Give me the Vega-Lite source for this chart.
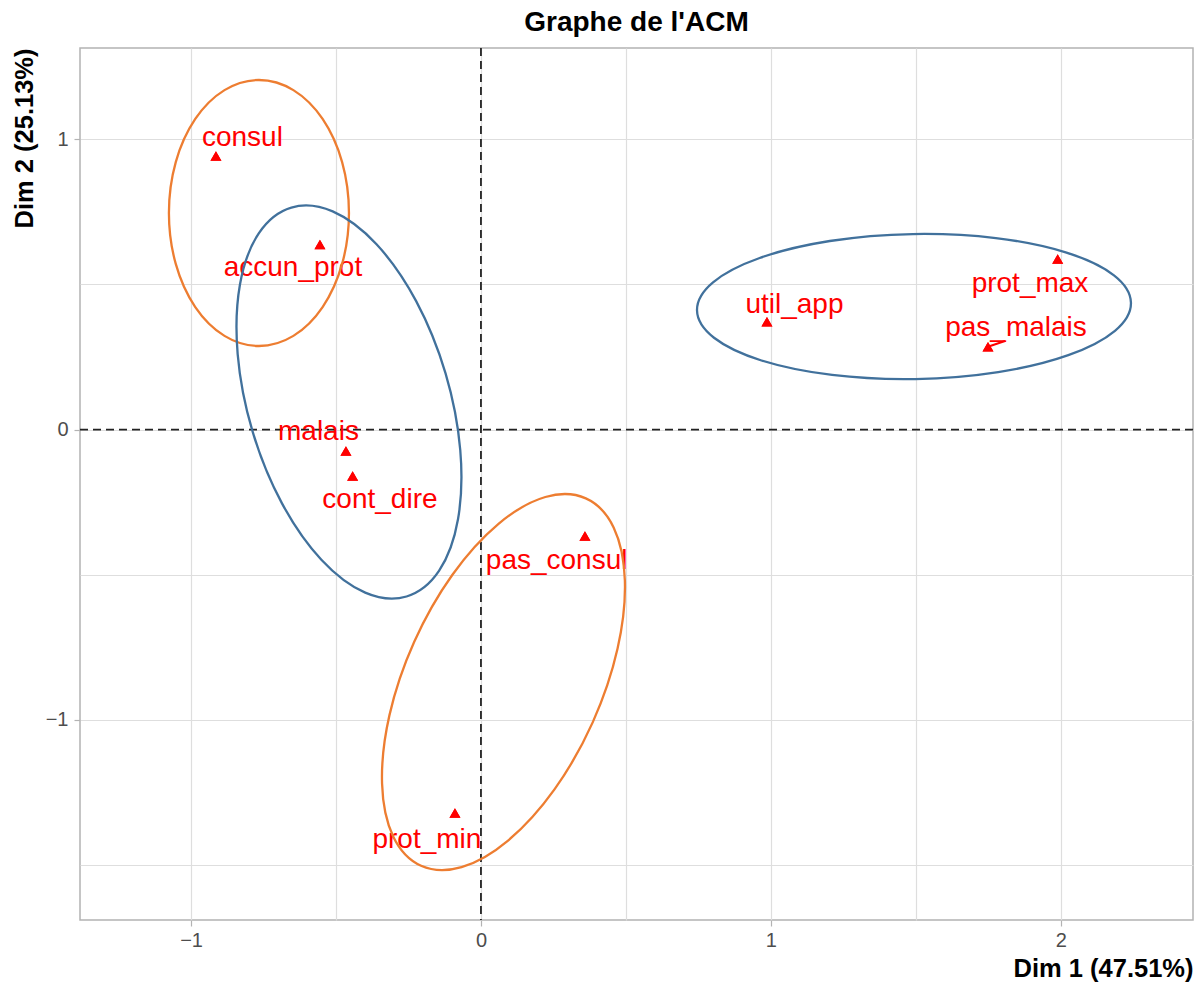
{
  "$schema": "https://vega.github.io/schema/vega-lite/v6.json",
  "width": 1113,
  "height": 872,
  "autosize": "none",
  "padding": {"left": 80, "top": 48, "right": 8, "bottom": 65},
  "background": "white",
  "title": {"text": "Graphe de l'ACM", "font": "Liberation Sans", "fontSize": 28, "fontWeight": "bold", "color": "#000000", "anchor": "middle", "offset": 10},
  "config": {
    "view": {"stroke": "#b3b3b3", "strokeWidth": 1.5},
    "font": "Liberation Sans"
  },
  "datasets": {
    "points": [
      {"name": "consul", "x": -0.9141, "y": 0.9422},
      {"name": "accun_prot", "x": -0.5554, "y": 0.6376},
      {"name": "malais", "x": -0.4657, "y": -0.0737},
      {"name": "cont_dire", "x": -0.4426, "y": -0.1598},
      {"name": "pas_consul", "x": 0.3587, "y": -0.3665},
      {"name": "prot_min", "x": -0.0897, "y": -1.3207},
      {"name": "util_app", "x": 0.9865, "y": 0.3717},
      {"name": "prot_max", "x": 1.9893, "y": 0.5877},
      {"name": "pas_malais", "x": 1.7489, "y": 0.2856}
    ],
    "labels": [
      {"name": "consul", "x": -0.8227, "y": 1.0059},
      {"name": "accun_prot", "x": -0.6485, "y": 0.5580},
      {"name": "malais", "x": -0.5605, "y": -0.0069},
      {"name": "cont_dire", "x": -0.3484, "y": -0.2422},
      {"name": "pas_consul", "x": 0.2611, "y": -0.4537},
      {"name": "prot_min", "x": -0.1863, "y": -1.4120},
      {"name": "util_app", "x": 1.0814, "y": 0.4306},
      {"name": "prot_max", "x": 1.8938, "y": 0.5005},
      {"name": "pas_malais", "x": 1.8455, "y": 0.3514}
    ],
    "segments": [
      {"name": "pas_malais", "x": 1.7489, "y": 0.2856, "x2": 1.8075, "y2": 0.3052}
    ],
    "ellipses": [
      {"ellipse": "A", "i": 0, "x": -0.4553, "y": 0.7462},
      {"ellipse": "A", "i": 1, "x": -0.4789, "y": 0.9215},
      {"ellipse": "A", "i": 2, "x": -0.5462, "y": 1.0701},
      {"ellipse": "A", "i": 3, "x": -0.6470, "y": 1.1694},
      {"ellipse": "A", "i": 4, "x": -0.7658, "y": 1.2043},
      {"ellipse": "A", "i": 5, "x": -0.8846, "y": 1.1694},
      {"ellipse": "A", "i": 6, "x": -0.9854, "y": 1.0701},
      {"ellipse": "A", "i": 7, "x": -1.0527, "y": 0.9215},
      {"ellipse": "A", "i": 8, "x": -1.0763, "y": 0.7462},
      {"ellipse": "A", "i": 9, "x": -1.0527, "y": 0.5709},
      {"ellipse": "A", "i": 10, "x": -0.9854, "y": 0.4223},
      {"ellipse": "A", "i": 11, "x": -0.8846, "y": 0.3230},
      {"ellipse": "A", "i": 12, "x": -0.7658, "y": 0.2881},
      {"ellipse": "A", "i": 13, "x": -0.6470, "y": 0.3230},
      {"ellipse": "A", "i": 14, "x": -0.5462, "y": 0.4223},
      {"ellipse": "A", "i": 15, "x": -0.4789, "y": 0.5709},
      {"ellipse": "B", "i": 0, "x": -0.2566, "y": -0.5747},
      {"ellipse": "B", "i": 1, "x": -0.3993, "y": -0.5615},
      {"ellipse": "B", "i": 2, "x": -0.5505, "y": -0.4482},
      {"ellipse": "B", "i": 3, "x": -0.6872, "y": -0.2523},
      {"ellipse": "B", "i": 4, "x": -0.7886, "y": -0.0035},
      {"ellipse": "B", "i": 5, "x": -0.8392, "y": 0.2604},
      {"ellipse": "B", "i": 6, "x": -0.8314, "y": 0.4990},
      {"ellipse": "B", "i": 7, "x": -0.7664, "y": 0.6762},
      {"ellipse": "B", "i": 8, "x": -0.6540, "y": 0.7649},
      {"ellipse": "B", "i": 9, "x": -0.5114, "y": 0.7516},
      {"ellipse": "B", "i": 10, "x": -0.3602, "y": 0.6384},
      {"ellipse": "B", "i": 11, "x": -0.2235, "y": 0.4425},
      {"ellipse": "B", "i": 12, "x": -0.1221, "y": 0.1936},
      {"ellipse": "B", "i": 13, "x": -0.0714, "y": -0.0702},
      {"ellipse": "B", "i": 14, "x": -0.0792, "y": -0.3089},
      {"ellipse": "B", "i": 15, "x": -0.1442, "y": -0.4860},
      {"ellipse": "C", "i": 0, "x": 0.3617, "y": -0.2367},
      {"ellipse": "C", "i": 1, "x": 0.4580, "y": -0.3376},
      {"ellipse": "C", "i": 2, "x": 0.4964, "y": -0.5196},
      {"ellipse": "C", "i": 3, "x": 0.4710, "y": -0.7548},
      {"ellipse": "C", "i": 4, "x": 0.3858, "y": -1.0074},
      {"ellipse": "C", "i": 5, "x": 0.2536, "y": -1.2391},
      {"ellipse": "C", "i": 6, "x": 0.0946, "y": -1.4144},
      {"ellipse": "C", "i": 7, "x": -0.0669, "y": -1.5069},
      {"ellipse": "C", "i": 8, "x": -0.2065, "y": -1.5022},
      {"ellipse": "C", "i": 9, "x": -0.3028, "y": -1.4013},
      {"ellipse": "C", "i": 10, "x": -0.3411, "y": -1.2193},
      {"ellipse": "C", "i": 11, "x": -0.3158, "y": -0.9842},
      {"ellipse": "C", "i": 12, "x": -0.2305, "y": -0.7315},
      {"ellipse": "C", "i": 13, "x": -0.0984, "y": -0.4998},
      {"ellipse": "C", "i": 14, "x": 0.0606, "y": -0.3245},
      {"ellipse": "C", "i": 15, "x": 0.2221, "y": -0.2320},
      {"ellipse": "D", "i": 0, "x": 2.2420, "y": 0.4370},
      {"ellipse": "D", "i": 1, "x": 2.1868, "y": 0.3405},
      {"ellipse": "D", "i": 2, "x": 2.0259, "y": 0.2567},
      {"ellipse": "D", "i": 3, "x": 1.7841, "y": 0.1983},
      {"ellipse": "D", "i": 4, "x": 1.4980, "y": 0.1743},
      {"ellipse": "D", "i": 5, "x": 1.2112, "y": 0.1883},
      {"ellipse": "D", "i": 6, "x": 0.9675, "y": 0.2382},
      {"ellipse": "D", "i": 7, "x": 0.8038, "y": 0.3164},
      {"ellipse": "D", "i": 8, "x": 0.7452, "y": 0.4110},
      {"ellipse": "D", "i": 9, "x": 0.8005, "y": 0.5075},
      {"ellipse": "D", "i": 10, "x": 0.9613, "y": 0.5913},
      {"ellipse": "D", "i": 11, "x": 1.2032, "y": 0.6497},
      {"ellipse": "D", "i": 12, "x": 1.4892, "y": 0.6737},
      {"ellipse": "D", "i": 13, "x": 1.7760, "y": 0.6597},
      {"ellipse": "D", "i": 14, "x": 2.0197, "y": 0.6098},
      {"ellipse": "D", "i": 15, "x": 2.1834, "y": 0.5316}
    ]
  },
  "layer": [
    {
      "data": {"name": "points"},
      "mark": {"type": "point", "shape": "triangle-up", "filled": true, "color": "#ff0000", "opacity": 1, "size": 120},
      "encoding": {
        "x": {
          "field": "x", "type": "quantitative",
          "scale": {"domain": [-1.383, 2.456], "nice": false, "zero": false},
          "axis": {
            "title": "Dim 1 (47.51%)",
            "values": [-1, -0.5, 0, 0.5, 1, 1.5, 2],
            "format": ".0f",
            "labelExpr": "datum.value % 1 === 0 ? datum.label : ''",
            "labelOverlap": false,
            "grid": true, "gridColor": "#dedede", "gridWidth": 1.2,
            "domain": false,
            "tickColor": "#b3b3b3", "tickWidth": 1.2, "tickSize": 6,
            "tickOpacity": {"condition": {"test": "datum.value % 1 !== 0", "value": 0}, "value": 1},
            "labelFont": "Liberation Sans", "labelFontSize": 20, "labelColor": "#4d4d4d", "labelPadding": 4,
            "titleFont": "Liberation Sans", "titleFontSize": 25.5, "titleFontWeight": "bold", "titleColor": "#000000",
            "titleAnchor": "end", "titleBaseline": "top", "titleY": 36
          }
        },
        "y": {
          "field": "y", "type": "quantitative",
          "scale": {"domain": [-1.689, 1.3145], "nice": false, "zero": false},
          "axis": {
            "title": "Dim 2 (25.13%)",
            "values": [-1.5, -1, -0.5, 0, 0.5, 1],
            "format": ".0f",
            "labelExpr": "datum.value % 1 === 0 ? datum.label : ''",
            "labelOverlap": false,
            "grid": true, "gridColor": "#dedede", "gridWidth": 1.2,
            "domain": false,
            "tickColor": "#b3b3b3", "tickWidth": 1.2, "tickSize": 6,
            "tickOpacity": {"condition": {"test": "datum.value % 1 !== 0", "value": 0}, "value": 1},
            "labelFont": "Liberation Sans", "labelFontSize": 20, "labelColor": "#4d4d4d", "labelPadding": 6,
            "titleFont": "Liberation Sans", "titleFontSize": 25.5, "titleFontWeight": "bold", "titleColor": "#000000",
            "titleAnchor": "end", "titleBaseline": "bottom", "titleX": -43
          }
        }
      }
    },
    {
      "data": {"values": [{"v": 0}]},
      "mark": {"type": "rule", "color": "#222222", "strokeWidth": 1.8, "strokeDash": [8, 5]},
      "encoding": {"x": {"datum": 0, "type": "quantitative"}}
    },
    {
      "data": {"values": [{"v": 0}]},
      "mark": {"type": "rule", "color": "#222222", "strokeWidth": 1.8, "strokeDash": [8, 5]},
      "encoding": {"y": {"datum": 0, "type": "quantitative"}}
    },
    {
      "data": {"name": "segments"},
      "mark": {"type": "rule", "color": "#ff0000", "strokeWidth": 2},
      "encoding": {
        "x": {"field": "x", "type": "quantitative"},
        "y": {"field": "y", "type": "quantitative"},
        "x2": {"field": "x2"},
        "y2": {"field": "y2"}
      }
    },
    {
      "data": {"name": "points"},
      "mark": {"type": "point", "shape": "triangle-up", "filled": true, "color": "#ff0000", "opacity": 1, "size": 120},
      "encoding": {
        "x": {"field": "x", "type": "quantitative"},
        "y": {"field": "y", "type": "quantitative"}
      }
    },
    {
      "data": {"name": "labels"},
      "mark": {"type": "text", "font": "Liberation Sans", "fontSize": 28, "color": "#ff0000", "align": "center", "baseline": "middle"},
      "encoding": {
        "x": {"field": "x", "type": "quantitative"},
        "y": {"field": "y", "type": "quantitative"},
        "text": {"field": "name", "type": "nominal"}
      }
    },
    {
      "data": {"name": "ellipses"},
      "mark": {"type": "line", "interpolate": "cardinal-closed", "strokeWidth": 2.3},
      "encoding": {
        "x": {"field": "x", "type": "quantitative"},
        "y": {"field": "y", "type": "quantitative"},
        "order": {"field": "i", "type": "quantitative"},
        "color": {
          "field": "ellipse", "type": "nominal",
          "scale": {"domain": ["A", "B", "C", "D"], "range": ["#ED7D31", "#41719C", "#ED7D31", "#41719C"]},
          "legend": null
        }
      }
    }
  ]
}
